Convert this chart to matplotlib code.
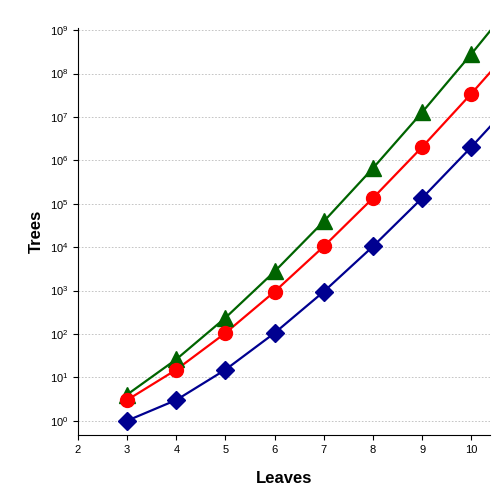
import numpy as np
import matplotlib.pyplot as plt

plt.rcParams['font.family'] = ['Liberation Sans', 'DejaVu Sans']

leaves = [3, 4, 5, 6, 7, 8, 9, 10, 11]
unrooted_binary = [1, 3, 15, 105, 945, 10395, 135135, 2027025, 34459425]
rooted_binary = [3, 15, 105, 945, 10395, 135135, 2027025, 34459425, 654729075]
rooted_all = [4, 26, 236, 2752, 39208, 660032, 12818912, 282137824, 6939897856]

fig = plt.figure(figsize=(5, 5), dpi=100)
ax = fig.add_axes([0.156, 0.13, 0.824, 0.814])

series = [
    (rooted_all, "#006400", "^", 12),
    (rooted_binary, "#ff0000", "o", 10),
    (unrooted_binary, "#000090", "D", 9.5),
]
for vals, color, marker, ms in series:
    ax.plot(leaves, vals, color=color, lw=1.6, zorder=2)
    ax.plot(leaves[:-1], vals[:-1], color=color, marker=marker, ms=ms, ls="none", zorder=3)

ax.set_yscale("log")
ax.set_xlim(2, 10.38)
ax.set_ylim(10 ** -0.33, 10 ** 9.05)
ax.set_xticks(range(2, 11))
ax.set_yticks([10 ** k for k in range(10)])
ax.minorticks_off()
ax.yaxis.grid(True, ls=(0, (2, 2)), color="#bbbbbb", lw=0.6)
ax.set_axisbelow(True)
for s in ("top", "right"):
    ax.spines[s].set_visible(False)
ax.tick_params(labelsize=8)
ax.set_xlabel("Leaves", fontsize=12, fontweight="bold", labelpad=12)
ax.set_ylabel("Trees", fontsize=12, fontweight="bold")

fig.savefig("out.png", dpi=100)
